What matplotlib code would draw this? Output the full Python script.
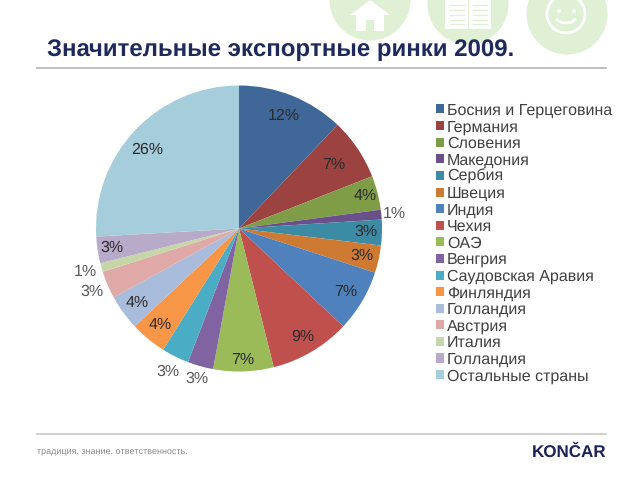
import numpy as np
import matplotlib
matplotlib.use("Agg")
import matplotlib.pyplot as plt
from matplotlib.patches import Circle, Polygon, Rectangle, Arc

countries = ["Босния и Герцеговина", "Германия", "Словения", "Македония", "Сербия",
             "Швеция", "Индия", "Чехия", "ОАЭ", "Венгрия", "Саудовская Аравия",
             "Финляндия", "Голландия", "Австрия", "Италия", "Голландия", "Остальные страны"]
shares = [12.1, 6.95, 3.85, 1.1, 2.9, 3.1, 7.0, 9.1, 6.8, 2.9, 3.1, 4.1, 4.0, 3.1, 1.0, 3.0, 25.9]
pct_labels = ["12%", "7%", "4%", "1%", "3%", "3%", "7%", "9%", "7%", "3%", "3%", "4%", "4%", "3%", "1%", "3%", "26%"]
colors = ["#3f6797", "#9c4341", "#7f9c47", "#69508a", "#3a8ba3", "#cf7a33", "#4f81bd", "#c0504d",
          "#9bbb59", "#8064a2", "#4bacc6", "#f79646", "#a9bcdb", "#dfa9a8", "#c6d6a9", "#b8abc9", "#a5cddb"]
label_radius = [.85, .80, .91, 1.09, .89, .88, .87, .88, .92, 1.09, 1.12, .87, .88, 1.12, 1.12, .90, .85]
label_turn = [0, 0, 0, 0, 0, 0, 0, 0, 0, 0, 0, 0, 0, 0, 0, 0, 2.7]
outside_text = "#595959"
inside_text = "#2b2b2b"

W, H = 640, 480
plt.rcParams["font.family"] = ["Liberation Sans", "DejaVu Sans"]
plt.rcParams["text.hinting"] = "no_hinting"
plt.rcParams["text.hinting_factor"] = 1
fig = plt.figure(figsize=(6.4, 4.8), dpi=100)

# page furniture in pixel coordinates
bg = fig.add_axes([0, 0, 1, 1])
bg.set_xlim(0, W); bg.set_ylim(H, 0); bg.axis("off")
green = "#dff0d4"
for cx, cy in [(370, 0), (468, 4), (567, 14)]:
    bg.add_patch(Circle((cx, cy), 40.5, fc=green, ec="none"))
# house
bg.add_patch(Polygon([(350, 15), (370, 0), (390, 15)], fc="white", ec="none"))
bg.add_patch(Rectangle((356, 13), 28, 18, fc="white", ec="none"))
bg.add_patch(Rectangle((366, 20), 8, 11, fc=green, ec="none"))
# book
bg.add_patch(Rectangle((445, 0), 46, 29, fc="white", ec="none"))
bg.add_patch(Rectangle((467.5, 0), 1.5, 29, fc=green, ec="none"))
for y in (5, 10, 15, 20, 24):
    bg.plot([450, 464], [y, y], color=green, lw=1)
    bg.plot([473, 487], [y, y], color=green, lw=1)
# smiley
bg.add_patch(Circle((566, 14), 19, fc="none", ec="white", lw=2))
bg.add_patch(Circle((559, 11), 2, fc="white", ec="none"))
bg.add_patch(Circle((574, 11), 2, fc="white", ec="none"))
bg.add_patch(Arc((566, 15), 22, 16, theta1=20, theta2=160, ec="white", lw=2))

bg.text(47, 50, "Значительные экспортные ринки 2009.", fontsize=17.45, fontweight="bold",
        color="#1f2a5c", va="center", ha="left")
bg.plot([37, 606], [68, 68], color="#b4b4b4", lw=1.2)
bg.plot([37, 606], [434, 434], color="#c8c8c8", lw=1.2)
bg.text(37, 452, "традиция. знание. ответственность.", fontsize=6.2, color="#8a8a8a", va="center", ha="left")
bg.text(606, 452, "KONČAR", fontsize=12, fontweight="bold", color="#1d2259", va="center", ha="right")

# pie
cx, cy, r = 239, 228.5, 143
ax = fig.add_axes([(cx - r) / W, 1 - (cy + r) / H, 2 * r / W, 2 * r / H])
wedges, _ = ax.pie(shares, colors=colors, startangle=90, counterclock=False, radius=1,
                   wedgeprops=dict(linewidth=0))
ax.set_xlim(-1, 1); ax.set_ylim(-1, 1)
ax.set_aspect("equal")
ax.patch.set_alpha(0)
for w, lab, rad, turn in zip(wedges, pct_labels, label_radius, label_turn):
    a = np.deg2rad((w.theta1 + w.theta2) / 2 + turn)
    ax.text(rad * np.cos(a), rad * np.sin(a), lab, ha="center", va="center", fontsize=11.3,
            color=outside_text if rad > 1 else inside_text, clip_on=False)

fig.legend(wedges, countries, loc="upper left", bbox_to_anchor=(436 / W, 1 - 103 / H),
           frameon=False, fontsize=11.5, labelcolor="#404040", labelspacing=0.105,
           handlelength=0.5, handleheight=0.5, handletextpad=0.19, borderpad=0, borderaxespad=0)

fig.savefig("out.png", dpi=100)
